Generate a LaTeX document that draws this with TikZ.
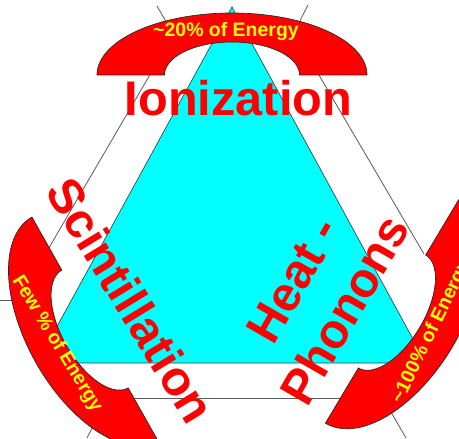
\documentclass[tikz,border=0pt]{standalone}
\usepackage{fontspec}
\setmainfont{Liberation Sans}
\definecolor{cyanfill}{RGB}{0,255,255}
\definecolor{redfill}{RGB}{255,0,0}
\definecolor{yel}{RGB}{255,255,0}
\definecolor{edgegray}{RGB}{90,90,90}
\begin{document}
\begin{tikzpicture}[x=0.75pt,y=-0.75pt,
  hidline/.style={draw=edgegray, line width=0.6pt},
  outertri/.style={fill=white, draw=none},
  cyantri/.style={fill=cyanfill, draw=black!75, line width=0.5pt, line join=miter},
  redarc/.style={fill=redfill, draw=black!85, line width=0.5pt},
  biglabel/.style={text=redfill, font=\fontsize{36.5}{45}\selectfont\bfseries, inner sep=0pt},
  arclabel/.style={text=yel, font=\fontsize{14.6}{17}\selectfont\bfseries, inner sep=0pt}]
\useasboundingbox (0,0) rectangle (459,438);
\clip (0,0) rectangle (459,438);
% lines lying behind
\coordinate (l1a) at (157,6);   \coordinate (l1b) at (406,438);
\coordinate (l2a) at (308,5);   \coordinate (l2b) at (87,438);
\coordinate (h1a) at (-5,300);  \coordinate (h1b) at (300,300);
\draw[hidline] (l1a) -- (l1b);
\draw[hidline] (l2a) -- (l2b);
\draw[hidline] (h1a) -- (h1b);
% outer white triangle (its corners lie under the arcs)
\coordinate (oA) at (234.4,-69.3);
\coordinate (oB) at (-39.6,398);
\coordinate (oC) at (507.8,398);
\fill[outertri] (oA) -- (oB) -- (oC) -- cycle;
\coordinate (oL1) at (153,69.5);  \coordinate (oL2) at (36,270);
\coordinate (oR1) at (316,70);    \coordinate (oR2) at (424,254);
\coordinate (oB1) at (100,398);   \coordinate (oB2) at (380,398);
\draw[hidline] (oL1) -- (oL2);
\draw[hidline] (oR1) -- (oR2);
\draw[hidline] (oB1) -- (oB2);
% cyan triangle
\coordinate (cA) at (232,7);
\coordinate (cB) at (37,363);
\coordinate (cC) at (426,363);
\draw[cyantri] (cA) -- (cB) -- (cC) -- cycle;
% red block arcs
\begin{scope}[shift={(232,75)}]
\draw[redarc] plot[domain=180:0,samples=91,variable=\t] ({135*cos(\t)},{-62*sin(\t)})
  -- plot[domain=0:180,samples=91,variable=\t] ({67.5*cos(\t)},{-33*sin(\t)}) -- cycle;
\end{scope}
\begin{scope}[shift={(95,329)},rotate=119.4]
\draw[redarc] plot[domain=180:0,samples=91,variable=\t] ({128.5*cos(\t)},{-68*sin(\t)})
  -- plot[domain=0:180,samples=91,variable=\t] ({67.6*cos(\t)},{-33*sin(\t)}) -- cycle;
\end{scope}
\begin{scope}[shift={(392,311.5)},rotate=-120.8]
\draw[redarc] plot[domain=180:0,samples=91,variable=\t] ({130*cos(\t)},{-70*sin(\t)})
  -- plot[domain=0:180,samples=91,variable=\t] ({65.7*cos(\t)},{-32*sin(\t)}) -- cycle;
\end{scope}
% labels
\node[biglabel] (ion) at (238.5,98.5) {Ionization};
\node[biglabel, rotate=-58.6] (sci) at (131,300) {Scintillation};
\node[biglabel, rotate=60, align=center] (heat) at (319,295) {Heat -\\Phonons};
\node[arclabel, anchor=base] (t20) at (226,37) {\textasciitilde 20\% of Energy};
\node[arclabel, rotate=-58.6] (few) at (57,344) {Few \% of Energy};
\node[arclabel, rotate=64] (hund) at (431.7,331.9) {\textasciitilde 100\% of Energy};
\end{tikzpicture}
\end{document}
